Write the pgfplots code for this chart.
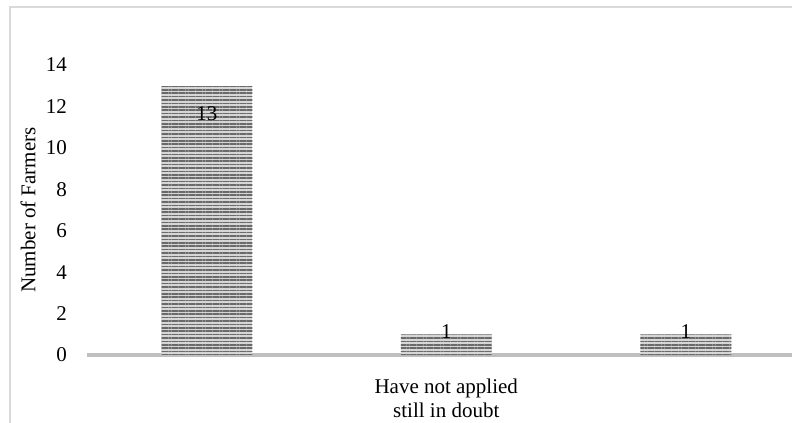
\documentclass[border=0pt]{standalone}
\usepackage{fontspec}
\setmainfont{Liberation Serif}
\usepackage{pgfplots}
\pgfplotsset{compat=1.18}
\usetikzlibrary{patterns.meta}
\definecolor{axisgray}{HTML}{BFBFBF}
\definecolor{framegray}{HTML}{D9D9D9}
\definecolor{barlight}{HTML}{D6D6D6}
\definecolor{bardark}{HTML}{6A6A6A}

\begin{document}
\begin{tikzpicture}[font=\fontsize{21bp}{24bp}\selectfont]
\useasboundingbox (0,0) rectangle (792bp,423bp);
% outer chart frame (cut off at right and bottom)
\draw[framegray, line width=1.5bp] (10bp,-10bp) -- (10bp,416bp) -- (810bp,416bp);
\begin{axis}[
    at={(87bp,68bp)}, anchor=south west,
    scale only axis,
    width=718.5bp, height=290bp,
    xmin=-0.5, xmax=2.5,
    ymin=0, ymax=14,
    ybar, bar width=91bp, bar shift=0pt,
    axis x line*=bottom, axis y line*=left,
    axis line style={-},
    x axis line style={axisgray, line width=4bp},
    y axis line style={draw=none},
    major tick length=0pt,
    ytick={0,2,...,14},
    xtick={1},
    xticklabels={{Have not applied\\still in doubt}},
    xticklabel style={align=center, anchor=north, inner sep=0pt, yshift=-24bp},
    yticklabel style={anchor=east, inner sep=0pt, xshift=-20bp},
    ylabel={Number of Farmers},
    ylabel style={at={(axis description cs:-0.0821,0.5)}, anchor=center},
    /pgf/number format/assume math mode=true,
    clip=false,
]
\addplot[draw=none, fill=barlight,
    postaction={pattern={Lines[angle=0,distance=3.4bp,line width=1.6bp]}, pattern color=bardark},
    nodes near coords, nodes near coords style={anchor=base, yshift=-35bp, text=black}]
    coordinates {(0,13)};
\addplot[draw=none, fill=barlight,
    postaction={pattern={Lines[angle=0,distance=3.4bp,line width=1.6bp]}, pattern color=bardark},
    nodes near coords, nodes near coords style={anchor=base, yshift=-4bp, text=black}]
    coordinates {(1,1) (2,1)};
\end{axis}
\end{tikzpicture}
\end{document}
